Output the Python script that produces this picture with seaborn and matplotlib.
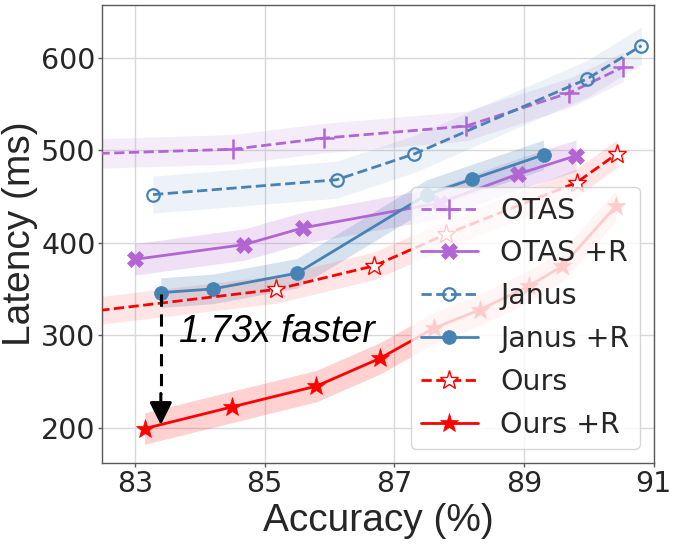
import matplotlib
matplotlib.use("Agg")
import matplotlib.pyplot as plt
import seaborn as sns
import numpy as np

# ---- data ----
otas_x = [82.0, 84.51, 85.91, 88.1, 89.7, 90.53]
otas_y = [495.5, 501, 513, 526, 562, 590]
otasr_x = [83.0, 84.69, 85.59, 87.7, 88.9, 89.8]
otasr_y = [382, 398, 416, 443, 474, 494]
janus_x = [83.28, 86.11, 87.31, 89.97, 90.81]
janus_y = [452, 468, 496, 577, 613]
janusr_x = [83.40, 84.2, 85.5, 87.5, 88.19, 89.3]
janusr_y = [346, 350, 367, 452, 468.5, 495]
ours_x = [82.0, 85.18, 86.69, 87.79, 89.81, 90.43]
ours_y = [323, 349.5, 375, 409, 465, 496]
oursr_x = [83.15, 84.5, 85.8, 86.78, 87.61, 88.32, 89.07, 89.59, 90.42]
oursr_y = [199, 222.5, 245, 275, 307.6, 327.5, 353, 374.6, 440]
labels = ["OTAS", "OTAS +R", "Janus", "Janus +R", "Ours", "Ours +R"]
band_half = [16, 17, 20, 16, 15, 17]
xticks = [83, 85, 87, 89, 91]
yticks = [200, 300, 400, 500, 600]

sns.set_theme(style="whitegrid")
plt.rcParams['font.family'] = ['DejaVu Sans']

ARIAL = 'Liberation Sans'

PURPLE = "#B266D3"
BLUE = "#4682B4"
RED = "#FF0000"

fig = plt.figure(figsize=(6.74, 5.51), dpi=100)
ax = fig.add_axes([0.152, 0.160, 0.818, 0.831])

series = [
    (otas_x, otas_y, PURPLE, "--", dict(marker="+", markersize=15, markeredgewidth=1.8), 0.12),
    (otasr_x, otasr_y, PURPLE, "-", dict(marker="X", markersize=11, markeredgewidth=0.5), 0.2),
    (janus_x, janus_y, BLUE, "--", dict(marker="o", markersize=9, markerfacecolor="none", markeredgewidth=1.6), 0.1),
    (janusr_x, janusr_y, BLUE, "-", dict(marker="o", markersize=10, markeredgewidth=0.5), 0.22),
    (ours_x, ours_y, RED, "--", dict(marker="*", markersize=14, markerfacecolor="white", markeredgewidth=1.0), 0.1),
    (oursr_x, oursr_y, RED, "-", dict(marker="*", markersize=14, markeredgewidth=0.5), 0.18),
]

for (xs, ys, c, ls, mk, a), lab, hw in zip(series, labels, band_half):
    xs_a = np.asarray(xs)
    ys_a = np.asarray(ys)
    ax.fill_between(xs_a, ys_a - hw, ys_a + hw, color=c, alpha=a, linewidth=0, zorder=1)
    sns.lineplot(x=xs, y=ys, ax=ax, color=c, linestyle=ls, linewidth=2.0,
                 label=lab, zorder=3, sort=False, markeredgecolor=c, **mk)

# annotation arrow
ax.plot([83.4, 83.4], [345, 236], linestyle=(0, (4, 2.5)), color="black", linewidth=2.2, zorder=4)
ax.annotate("", xy=(83.4, 200), xytext=(83.4, 240),
            arrowprops=dict(arrowstyle="-|>", color="black", lw=2.2, mutation_scale=34),
            zorder=5)
ax.text(83.68, 303, "1.73x faster", fontsize=27, style="italic", family=ARIAL,
        ha="left", va="center", color="black")

ax.set_xlim(82.5, 91)
ax.set_ylim(162, 657)
ax.set_xticks(xticks)
ax.set_yticks(yticks)
ax.tick_params(axis="both", labelsize=20.5, length=3, width=1, color="0.35",
               bottom=True, left=True, pad=2)
ax.set_xlabel("Accuracy (%)", fontsize=28, family=ARIAL, labelpad=4)
ax.set_ylabel("Latency (ms)", fontsize=28, family=ARIAL, labelpad=2)
for s in ax.spines.values():
    s.set_color("0.35")
    s.set_linewidth(1.0)
ax.grid(True, color="0.85", linewidth=1.0)
ax.set_axisbelow(True)

leg = ax.legend(loc="lower right", fontsize=20.5, handlelength=2.0, labelspacing=0.52,
                borderpad=0.35, handletextpad=0.8, framealpha=0.8)

fig.savefig("out.png", dpi=100)
